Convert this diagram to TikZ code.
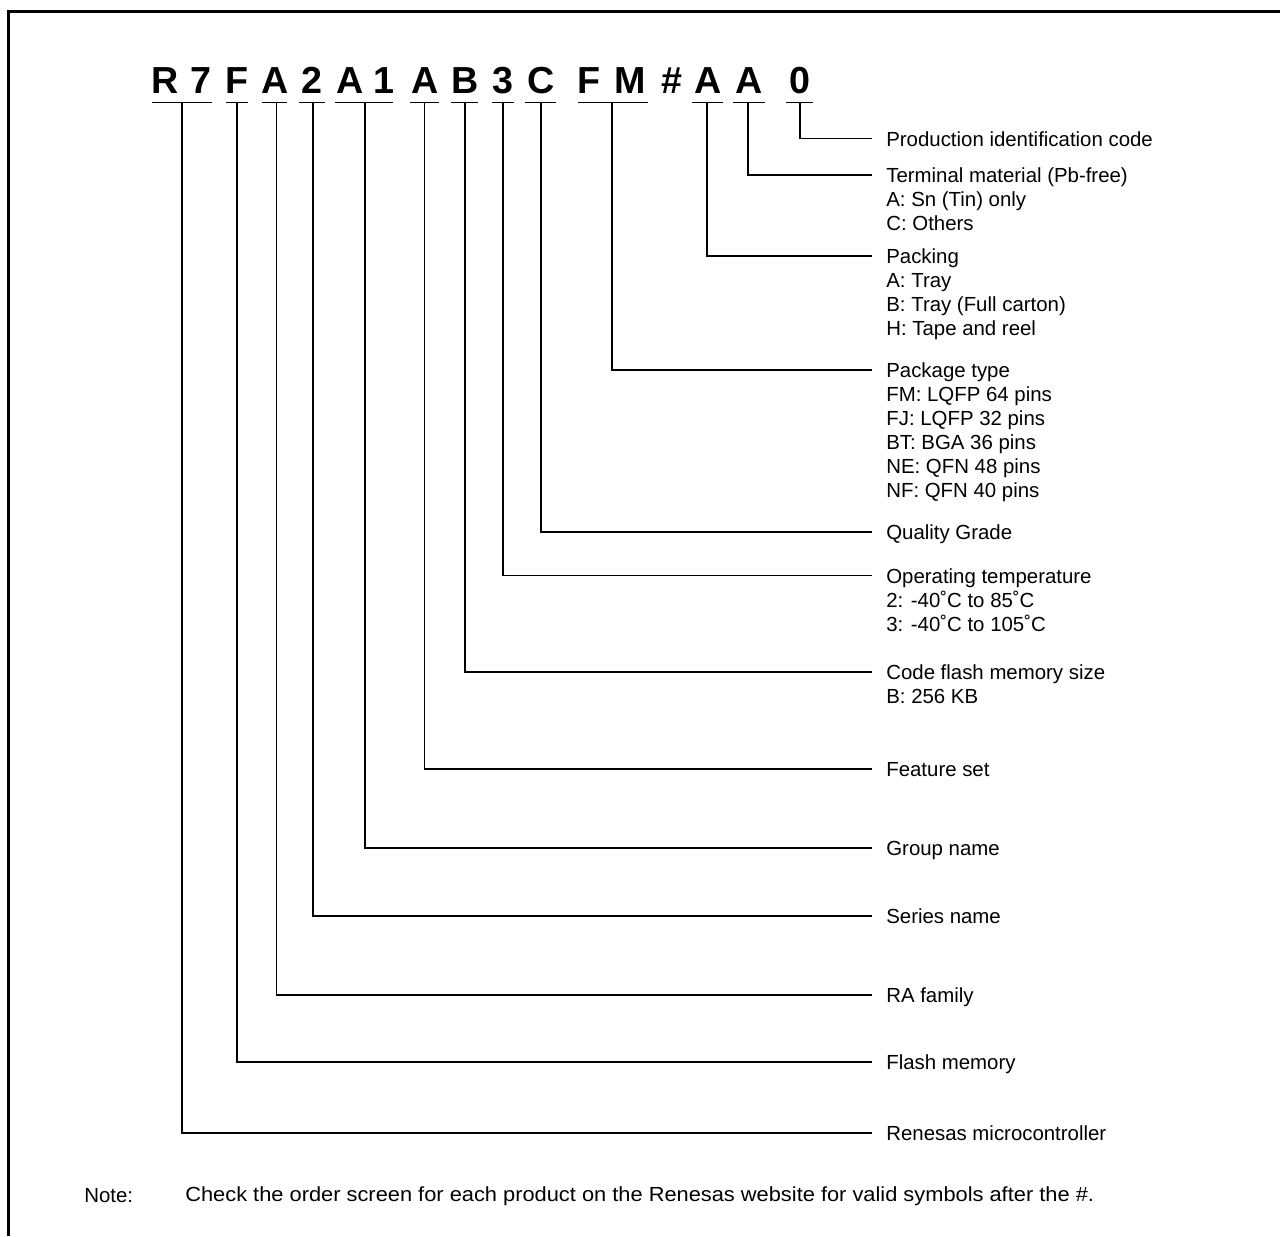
\documentclass[tikz,border=0pt]{standalone}
\usepackage{fontspec}
\setmainfont{Liberation Sans}
\usepackage{graphicx}
\usepackage{tikz}

\newcommand{\descfont}{\fontsize{12.24}{14.4}\selectfont}
\newcommand{\codefont}{\bfseries\fontsize{22.6}{26}\selectfont}

\begin{document}
\begin{tikzpicture}[
		x=0.6pt, y=-0.6pt,
		every node/.style={inner sep=0pt, font=\descfont},
		digit/.style={font=\codefont, anchor=base},
		desc/.style={anchor=north west, align=left},
		lead/.style={line width=0.75pt}
	]
  \useasboundingbox (0,0) rectangle (1280,1236);
  \draw [line width=1.6pt] (8.3,1236) -- (8.3,11.7) -- (1280,11.7);

  % part number
  \node (c_R) [digit] at (164.7,93) {R};
  \node (c_7) [digit] at (201,93) {7};
  \node (c_F) [digit] at (237,93) {F};
  \node (c_A1) [digit] at (275,93) {A};
  \node (c_2) [digit] at (312,93) {2};
  \node (c_A2) [digit] at (349.6,93) {A};
  \node (c_1) [digit] at (384,93) {1};
  \node (c_A3) [digit] at (424.6,93) {A};
  \node (c_B) [digit] at (465,93) {B};
  \node (c_3) [digit] at (503,93) {3};
  \node (c_C) [digit] at (540.7,93) {C};
  \node (c_F2) [digit] at (588.7,93) {F};
  \node (c_M) [digit] at (630.5,93) {M};
  \node (c_hash) [digit] at (671.7,93) {\#};
  \node (c_A4) [digit] at (708,93) {A};
  \node (c_A5) [digit] at (748.7,93) {A};
  \node (c_0) [digit] at (799.5,93) {0};

  % descriptions
  \node (prod) [desc] at (886,131) {Production identification code};
  \node (term) [desc] at (886,167.7) {Terminal material (Pb-free)\\A: Sn (Tin) only\\C: Others};
  \node (pack) [desc] at (886,248.7) {Packing\\A: Tray\\B: Tray (Full carton)\\H: Tape and reel};
  \node (pkg) [desc] at (886,362.7) {Package type\\FM: LQFP 64 pins\\FJ: LQFP 32 pins\\BT: BGA 36 pins\\NE: QFN 48 pins\\NF: QFN 40 pins};
  \node (grade) [desc] at (886,524.7) {Quality Grade};
  \node (temp) [desc] at (886,568.4) {Operating temperature\\2: -40˚C to 85˚C\\3: -40˚C to 105˚C};
  \node (rom) [desc] at (886,664.7) {Code flash memory size\\B: 256 KB};
  \node (feature) [desc] at (886,761.7) {Feature set};
  \node (group) [desc] at (886,840.7) {Group name};
  \node (series) [desc] at (886,908.7) {Series name};
  \node (family) [desc] at (886,987.7) {RA family};
  \node (flash) [desc] at (886,1054.7) {Flash memory};
  \node (mcu) [desc] at (886,1125.7) {Renesas microcontroller};

  % underlines and leaders
  \foreach \name/\l/\r/\v/\y in {
      R/151.7/211.7/182/1133, F/226/248/237/1062, A1/261.7/286.7/276.7/995,
      two/299/325/313/916, A2/335/393/365/848, A3/410/439/424.6/769,
      B/451/478/465/672, three/491.6/514/503/575.7, C/525/556/541/532,
      FM/578/648/612/370, A4/691.7/723/707/256, A5/732.7/765/748/175,
      zero/786/812.7/800/138.3} {
    \coordinate (ul_\name) at (\l,102.7);
    \coordinate (ur_\name) at (\r,102.7);
    \coordinate (top_\name) at (\v,102.7);
    \coordinate (end_\name) at (872,\y);
    \draw [lead] (ul_\name) -- (ur_\name);
    \draw [lead] (top_\name) |- (end_\name);
  }

  \node (note) [anchor=west] at (84,1196) {Note:};
  \node (note_text) [anchor=west] at (185,1196) {\scalebox{1.07}[1]{Check the order screen for each product on the Renesas website for valid symbols after the \#.}};
\end{tikzpicture}
\end{document}
